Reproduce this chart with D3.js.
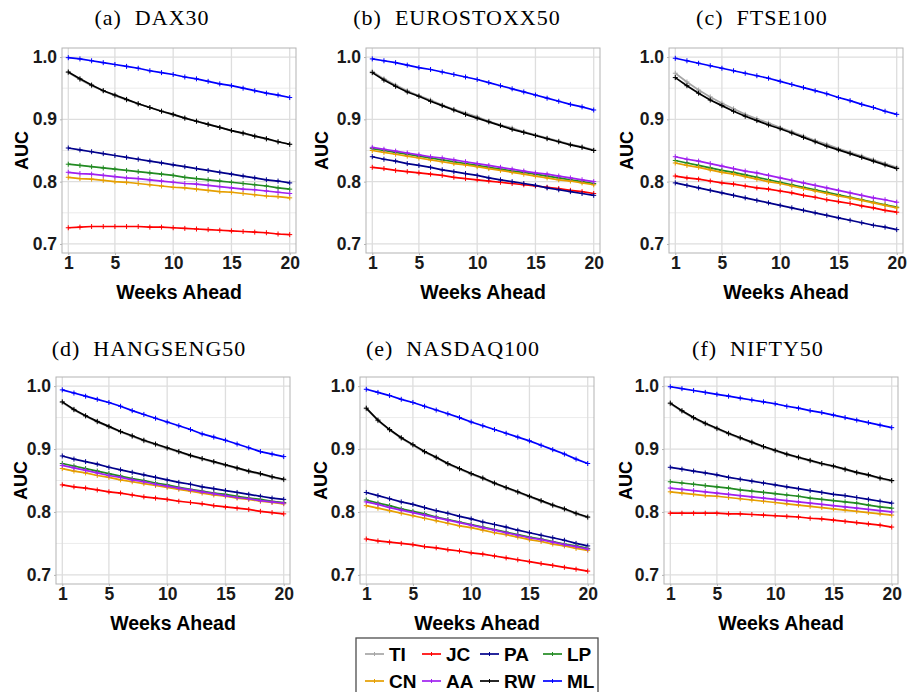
<!DOCTYPE html>
<html>
<head>
<meta charset="utf-8">
<script src="https://d3js.org/d3.v7.min.js"></script>
<style>
  body { margin: 0; background: #fff; }
  svg { display: block; }
</style>
</head>
<body>
<div id="chart"></div>
<script>
// weeks ahead (x categories) and y ticks
const weeks = [1,2,3,4,5,6,7,8,9,10,11,12,13,14,15,16,17,18,19,20];
const xTicks = [1, 5, 10, 15, 20];
const yTicks = [0.7, 0.8, 0.9, 1.0];
const yMinor = [0.75, 0.85, 0.95];

const methods = ["TI", "JC", "PA", "LP", "CN", "AA", "RW", "ML"];
const colors  = ["#a6a6a6", "#ff0000", "#00008b", "#228b22", "#e69f00", "#a020f0", "#000000", "#0000ff"];

const titles = ["(a)  DAX30", "(b)  EUROSTOXX50", "(c)  FTSE100",
                "(d)  HANGSENG50", "(e)  NASDAQ100", "(f)  NIFTY50"];

// AUC per method
const dax30 = {
  TI: [0.975,0.964,0.954,0.946,0.938,0.931,0.925,0.919,0.913,0.907,0.902,0.897,0.892,0.887,0.882,0.877,0.873,0.868,0.864,0.860],
  JC: [0.726,0.727,0.728,0.728,0.728,0.728,0.728,0.727,0.727,0.726,0.725,0.724,0.723,0.722,0.721,0.720,0.719,0.718,0.716,0.715],
  PA: [0.854,0.851,0.848,0.845,0.842,0.839,0.836,0.833,0.830,0.827,0.824,0.821,0.818,0.815,0.812,0.809,0.806,0.803,0.801,0.798],
  LP: [0.828,0.826,0.824,0.822,0.820,0.818,0.816,0.814,0.812,0.810,0.807,0.805,0.803,0.801,0.799,0.797,0.795,0.793,0.790,0.788],
  CN: [0.807,0.805,0.804,0.802,0.800,0.799,0.797,0.795,0.793,0.791,0.790,0.788,0.786,0.784,0.783,0.781,0.779,0.777,0.776,0.774],
  AA: [0.815,0.813,0.812,0.810,0.808,0.806,0.805,0.803,0.801,0.799,0.797,0.796,0.794,0.792,0.790,0.788,0.787,0.785,0.783,0.781],
  RW: [0.976,0.965,0.955,0.946,0.939,0.932,0.925,0.919,0.913,0.908,0.902,0.897,0.892,0.887,0.882,0.878,0.873,0.869,0.864,0.860],
  ML: [0.999,0.997,0.994,0.991,0.988,0.985,0.982,0.978,0.975,0.972,0.968,0.965,0.961,0.957,0.954,0.950,0.946,0.942,0.939,0.935]
};

const eurostoxx50 = {
  TI: [0.977,0.965,0.955,0.946,0.938,0.931,0.923,0.916,0.910,0.904,0.897,0.891,0.886,0.880,0.875,0.870,0.865,0.860,0.856,0.851],
  JC: [0.823,0.821,0.818,0.816,0.814,0.812,0.810,0.807,0.805,0.803,0.801,0.799,0.797,0.795,0.793,0.791,0.789,0.786,0.784,0.781],
  PA: [0.840,0.836,0.833,0.829,0.826,0.823,0.819,0.816,0.813,0.810,0.806,0.803,0.800,0.797,0.794,0.790,0.787,0.784,0.781,0.778],
  LP: [0.853,0.850,0.847,0.844,0.841,0.838,0.835,0.832,0.829,0.826,0.823,0.820,0.817,0.815,0.812,0.809,0.806,0.803,0.800,0.797],
  CN: [0.850,0.847,0.844,0.841,0.838,0.835,0.832,0.829,0.827,0.824,0.821,0.818,0.815,0.812,0.809,0.806,0.803,0.801,0.798,0.795],
  AA: [0.855,0.852,0.849,0.846,0.843,0.840,0.838,0.835,0.832,0.829,0.826,0.823,0.820,0.817,0.814,0.812,0.809,0.806,0.803,0.800],
  RW: [0.975,0.963,0.953,0.944,0.937,0.929,0.922,0.915,0.908,0.902,0.896,0.890,0.884,0.879,0.874,0.869,0.864,0.859,0.855,0.850],
  ML: [0.997,0.994,0.991,0.987,0.983,0.980,0.976,0.972,0.968,0.964,0.959,0.954,0.949,0.944,0.939,0.934,0.929,0.924,0.920,0.915]
};

const ftse100 = {
  TI: [0.974,0.960,0.947,0.936,0.926,0.917,0.908,0.901,0.894,0.887,0.880,0.873,0.866,0.860,0.853,0.847,0.841,0.835,0.829,0.823],
  JC: [0.809,0.806,0.804,0.801,0.798,0.796,0.793,0.790,0.788,0.785,0.782,0.778,0.775,0.771,0.768,0.765,0.761,0.758,0.754,0.751],
  PA: [0.798,0.794,0.790,0.786,0.782,0.778,0.774,0.770,0.766,0.762,0.758,0.754,0.750,0.746,0.742,0.738,0.734,0.730,0.727,0.723],
  LP: [0.834,0.830,0.826,0.822,0.818,0.815,0.811,0.807,0.803,0.799,0.795,0.791,0.787,0.783,0.779,0.775,0.771,0.767,0.763,0.759],
  CN: [0.830,0.826,0.823,0.819,0.815,0.812,0.808,0.804,0.800,0.797,0.793,0.789,0.785,0.781,0.777,0.774,0.770,0.766,0.762,0.758],
  AA: [0.840,0.836,0.833,0.829,0.825,0.821,0.817,0.814,0.810,0.806,0.802,0.798,0.794,0.790,0.786,0.782,0.778,0.774,0.771,0.767],
  RW: [0.967,0.954,0.942,0.931,0.922,0.913,0.905,0.898,0.891,0.885,0.878,0.871,0.864,0.857,0.851,0.845,0.839,0.833,0.827,0.821],
  ML: [0.998,0.994,0.990,0.986,0.982,0.978,0.974,0.970,0.966,0.961,0.956,0.951,0.946,0.941,0.935,0.930,0.924,0.919,0.913,0.908]
};

const hangseng50 = {
  TI: [0.974,0.962,0.952,0.943,0.935,0.927,0.920,0.913,0.907,0.901,0.895,0.889,0.884,0.879,0.874,0.869,0.864,0.860,0.855,0.851],
  JC: [0.843,0.840,0.838,0.835,0.832,0.830,0.827,0.824,0.822,0.820,0.817,0.815,0.813,0.810,0.808,0.806,0.804,0.801,0.799,0.797],
  PA: [0.889,0.884,0.880,0.876,0.871,0.867,0.863,0.859,0.855,0.851,0.847,0.844,0.840,0.837,0.834,0.831,0.828,0.825,0.822,0.820],
  LP: [0.877,0.873,0.869,0.865,0.861,0.857,0.853,0.850,0.846,0.843,0.839,0.836,0.833,0.830,0.828,0.825,0.822,0.820,0.817,0.815],
  CN: [0.869,0.865,0.862,0.858,0.855,0.851,0.848,0.845,0.842,0.839,0.836,0.833,0.830,0.827,0.825,0.822,0.820,0.817,0.815,0.813],
  AA: [0.874,0.870,0.866,0.862,0.858,0.855,0.851,0.848,0.844,0.841,0.838,0.835,0.832,0.829,0.826,0.823,0.821,0.818,0.816,0.814],
  RW: [0.975,0.963,0.953,0.944,0.936,0.928,0.921,0.914,0.908,0.902,0.896,0.890,0.885,0.880,0.875,0.870,0.865,0.861,0.856,0.852],
  ML: [0.994,0.989,0.984,0.979,0.974,0.968,0.961,0.955,0.949,0.943,0.937,0.931,0.924,0.919,0.914,0.908,0.902,0.896,0.892,0.888]
};

const nasdaq100 = {
  TI: [0.964,0.945,0.930,0.917,0.906,0.895,0.886,0.876,0.868,0.860,0.853,0.845,0.838,0.831,0.824,0.817,0.810,0.804,0.797,0.791],
  JC: [0.757,0.754,0.752,0.750,0.748,0.745,0.743,0.740,0.738,0.735,0.733,0.730,0.727,0.724,0.721,0.718,0.715,0.712,0.709,0.706],
  PA: [0.831,0.826,0.821,0.816,0.812,0.807,0.802,0.798,0.793,0.789,0.784,0.780,0.776,0.771,0.767,0.763,0.759,0.755,0.750,0.746],
  LP: [0.819,0.814,0.810,0.805,0.801,0.797,0.792,0.788,0.784,0.780,0.776,0.772,0.768,0.764,0.760,0.757,0.753,0.749,0.746,0.742],
  CN: [0.810,0.806,0.802,0.798,0.794,0.790,0.786,0.782,0.778,0.775,0.771,0.767,0.764,0.760,0.756,0.753,0.749,0.746,0.742,0.739],
  AA: [0.816,0.812,0.807,0.803,0.799,0.795,0.791,0.787,0.783,0.779,0.775,0.771,0.767,0.763,0.759,0.756,0.752,0.748,0.745,0.741],
  RW: [0.965,0.946,0.931,0.918,0.907,0.896,0.887,0.877,0.869,0.861,0.854,0.846,0.839,0.832,0.825,0.818,0.811,0.805,0.798,0.792],
  ML: [0.995,0.990,0.985,0.979,0.974,0.968,0.962,0.956,0.950,0.943,0.937,0.931,0.925,0.919,0.913,0.906,0.899,0.892,0.884,0.877]
};

const nifty50 = {
  TI: [0.972,0.960,0.949,0.940,0.932,0.924,0.917,0.910,0.903,0.897,0.891,0.886,0.881,0.876,0.872,0.867,0.862,0.858,0.853,0.849],
  JC: [0.798,0.798,0.798,0.798,0.798,0.797,0.797,0.796,0.795,0.794,0.793,0.792,0.790,0.789,0.787,0.785,0.783,0.781,0.779,0.776],
  PA: [0.871,0.868,0.865,0.862,0.859,0.855,0.852,0.849,0.846,0.843,0.840,0.837,0.834,0.831,0.828,0.826,0.823,0.820,0.817,0.814],
  LP: [0.848,0.846,0.844,0.842,0.840,0.838,0.835,0.833,0.831,0.829,0.827,0.825,0.822,0.820,0.818,0.816,0.814,0.811,0.808,0.806],
  CN: [0.832,0.830,0.828,0.826,0.825,0.823,0.821,0.819,0.817,0.815,0.813,0.811,0.809,0.807,0.805,0.803,0.801,0.799,0.797,0.795],
  AA: [0.838,0.836,0.834,0.832,0.830,0.828,0.826,0.824,0.822,0.820,0.818,0.816,0.814,0.812,0.810,0.808,0.806,0.804,0.802,0.800],
  RW: [0.973,0.961,0.950,0.941,0.933,0.925,0.918,0.911,0.904,0.898,0.892,0.887,0.882,0.877,0.873,0.868,0.863,0.859,0.854,0.850],
  ML: [0.999,0.996,0.993,0.990,0.987,0.984,0.981,0.978,0.975,0.972,0.968,0.965,0.961,0.958,0.954,0.950,0.946,0.942,0.938,0.934]
};

const panelData = [dax30, eurostoxx50, ftse100, hangseng50, nasdaq100, nifty50];

// layout
const W = 912, H = 692;
const plotW = 234;
const plotLefts = [62, 366, 669, 56, 360, 664];
const rowTop = [48, 377], rowH = [205, 207];
const titleCx = [152, 457, 762, 149, 453, 758];
const titleY = [25, 356];
const aucX = [28, 328, 633, 27, 327, 632];

const sansBold = "'Liberation Sans', Arial, sans-serif";

const svg = d3.select("#chart").append("svg")
  .attr("width", W).attr("height", H);

panelData.forEach((data, p) => {
  const row = p < 3 ? 0 : 1;
  const x0 = plotLefts[p], y0 = rowTop[row], h = rowH[row];

  const x = d3.scaleLinear().domain([0.46, 20.54]).range([x0, x0 + plotW]);
  const y = d3.scaleLinear().domain([0.6855, 1.0145]).range([y0 + h, y0]);

  const g = svg.append("g");

  // title
  g.append("text")
    .attr("x", titleCx[p]).attr("y", titleY[row])
    .attr("text-anchor", "middle")
    .style("font-family", "'Liberation Serif', serif")
    .style("font-size", "22px")
    .style("letter-spacing", "1px")
    .style("white-space", "pre")
    .text(titles[p]);

  // grid
  g.selectAll("line.ymin").data(yMinor).join("line")
    .attr("x1", x0).attr("x2", x0 + plotW)
    .attr("y1", d => y(d)).attr("y2", d => y(d))
    .attr("stroke", "#ececec").attr("stroke-width", 1);
  g.selectAll("line.ymaj").data(yTicks).join("line")
    .attr("x1", x0).attr("x2", x0 + plotW)
    .attr("y1", d => y(d)).attr("y2", d => y(d))
    .attr("stroke", "#dedede").attr("stroke-width", 1.3);
  g.selectAll("line.xmaj").data(xTicks).join("line")
    .attr("x1", d => x(d)).attr("x2", d => x(d))
    .attr("y1", y0).attr("y2", y0 + h)
    .attr("stroke", "#dedede").attr("stroke-width", 1.3);

  // series
  const line = d3.line().x((d, i) => x(weeks[i])).y(d => y(d));
  methods.forEach((m, k) => {
    const vals = data[m];
    g.append("path")
      .attr("d", line(vals))
      .attr("fill", "none")
      .attr("stroke", colors[k])
      .attr("stroke-width", 1.7);
    g.append("path")
      .attr("d", vals.map((v, i) => `M${x(weeks[i]) - 2.5},${y(v)}h5M${x(weeks[i])},${y(v) - 2.5}v5`).join(""))
      .attr("fill", "none")
      .attr("stroke", colors[k])
      .attr("stroke-width", 1);
  });

  // border
  g.append("rect")
    .attr("x", x0).attr("y", y0).attr("width", plotW).attr("height", h)
    .attr("fill", "none").attr("stroke", "#b3b3b3").attr("stroke-width", 1);

  // axes
  const xAxis = g.append("g")
    .attr("transform", `translate(0,${y0 + h})`)
    .call(d3.axisBottom(x).tickValues(xTicks).tickSize(2).tickPadding(2).tickFormat(d3.format("d")));
  const yAxis = g.append("g")
    .attr("transform", `translate(${x0},0)`)
    .call(d3.axisLeft(y).tickValues(yTicks).tickSize(2).tickPadding(3).tickFormat(d3.format(".1f")));
  [xAxis, yAxis].forEach(a => {
    a.select(".domain").remove();
    a.selectAll(".tick line").attr("stroke", "#b3b3b3");
    a.selectAll(".tick text")
      .attr("fill", "#1a1a1a")
      .style("font-family", sansBold)
      .style("font-weight", "bold")
      .style("font-size", "17.5px");
  });

  // axis titles
  g.append("text")
    .attr("x", x0 + plotW / 2).attr("y", y0 + h + 46)
    .attr("text-anchor", "middle")
    .style("font-family", sansBold).style("font-weight", "bold").style("font-size", "19.5px")
    .text("Weeks Ahead");
  g.append("text")
    .attr("transform", `translate(${aucX[p]},${y0 + h / 2}) rotate(-90)`)
    .attr("text-anchor", "middle")
    .style("font-family", sansBold).style("font-weight", "bold").style("font-size", "18px")
    .text("AUC");
});

// legend
const legCols = [365, 422, 480, 543];
const legRows = [654, 681];
const leg = svg.append("g");
leg.append("rect")
  .attr("x", 356).attr("y", 638).attr("width", 242).attr("height", 70)
  .attr("fill", "#fff").attr("stroke", "#4d4d4d").attr("stroke-width", 1.3);
methods.forEach((m, k) => {
  const lx = legCols[k % 4], ly = legRows[Math.floor(k / 4)];
  leg.append("line")
    .attr("x1", lx).attr("x2", lx + 19).attr("y1", ly).attr("y2", ly)
    .attr("stroke", colors[k]).attr("stroke-width", 1.7);
  leg.append("path")
    .attr("d", `M${lx + 9.5},${ly - 2}v4`)
    .attr("stroke", colors[k]).attr("stroke-width", 1);
  leg.append("text")
    .attr("x", lx + 24).attr("y", ly + 7)
    .style("font-family", sansBold).style("font-weight", "bold").style("font-size", "19px")
    .text(m);
});
</script>
</body>
</html>
